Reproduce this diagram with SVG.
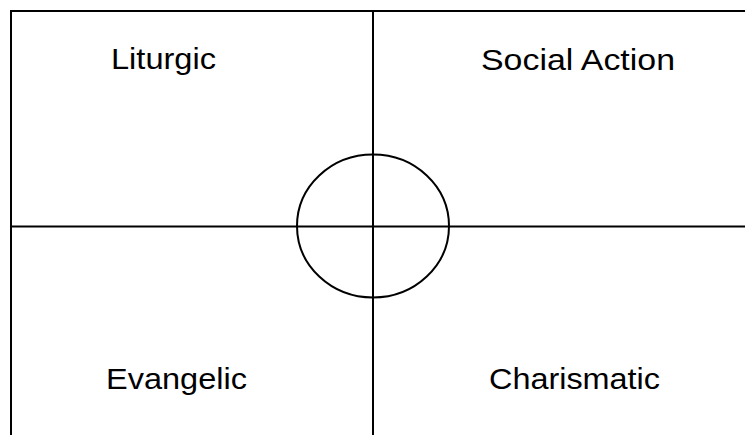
<svg xmlns="http://www.w3.org/2000/svg" width="745" height="435" viewBox="0 0 745 435">
<style>
.ln{stroke:#000;stroke-width:2;fill:none}
.lb{font-family:"Liberation Sans",Arial,sans-serif;font-size:30px;fill:#000}
</style>
<rect width="745" height="435" fill="#fff"/>
<g id="connectors">
<line class="ln" x1="10" y1="11" x2="745" y2="11"/>
<line class="ln" x1="11" y1="10" x2="11" y2="435"/>
<line class="ln" x1="373" y1="11" x2="373" y2="435"/>
<line class="ln" x1="11" y1="226.5" x2="745" y2="226.5"/>
</g>
<g id="center"><ellipse class="ln" cx="373" cy="226" rx="76" ry="71.5"/></g>
<g id="liturgic"><text class="lb" x="111" y="68.5" textLength="105" lengthAdjust="spacingAndGlyphs">Liturgic</text></g>
<g id="social"><text class="lb" x="481" y="69.5" textLength="194" lengthAdjust="spacingAndGlyphs">Social Action</text></g>
<g id="evangelic"><text class="lb" x="106" y="388.5" textLength="141" lengthAdjust="spacingAndGlyphs">Evangelic</text></g>
<g id="charismatic"><text class="lb" x="489" y="389" textLength="171" lengthAdjust="spacingAndGlyphs">Charismatic</text></g>
</svg>
